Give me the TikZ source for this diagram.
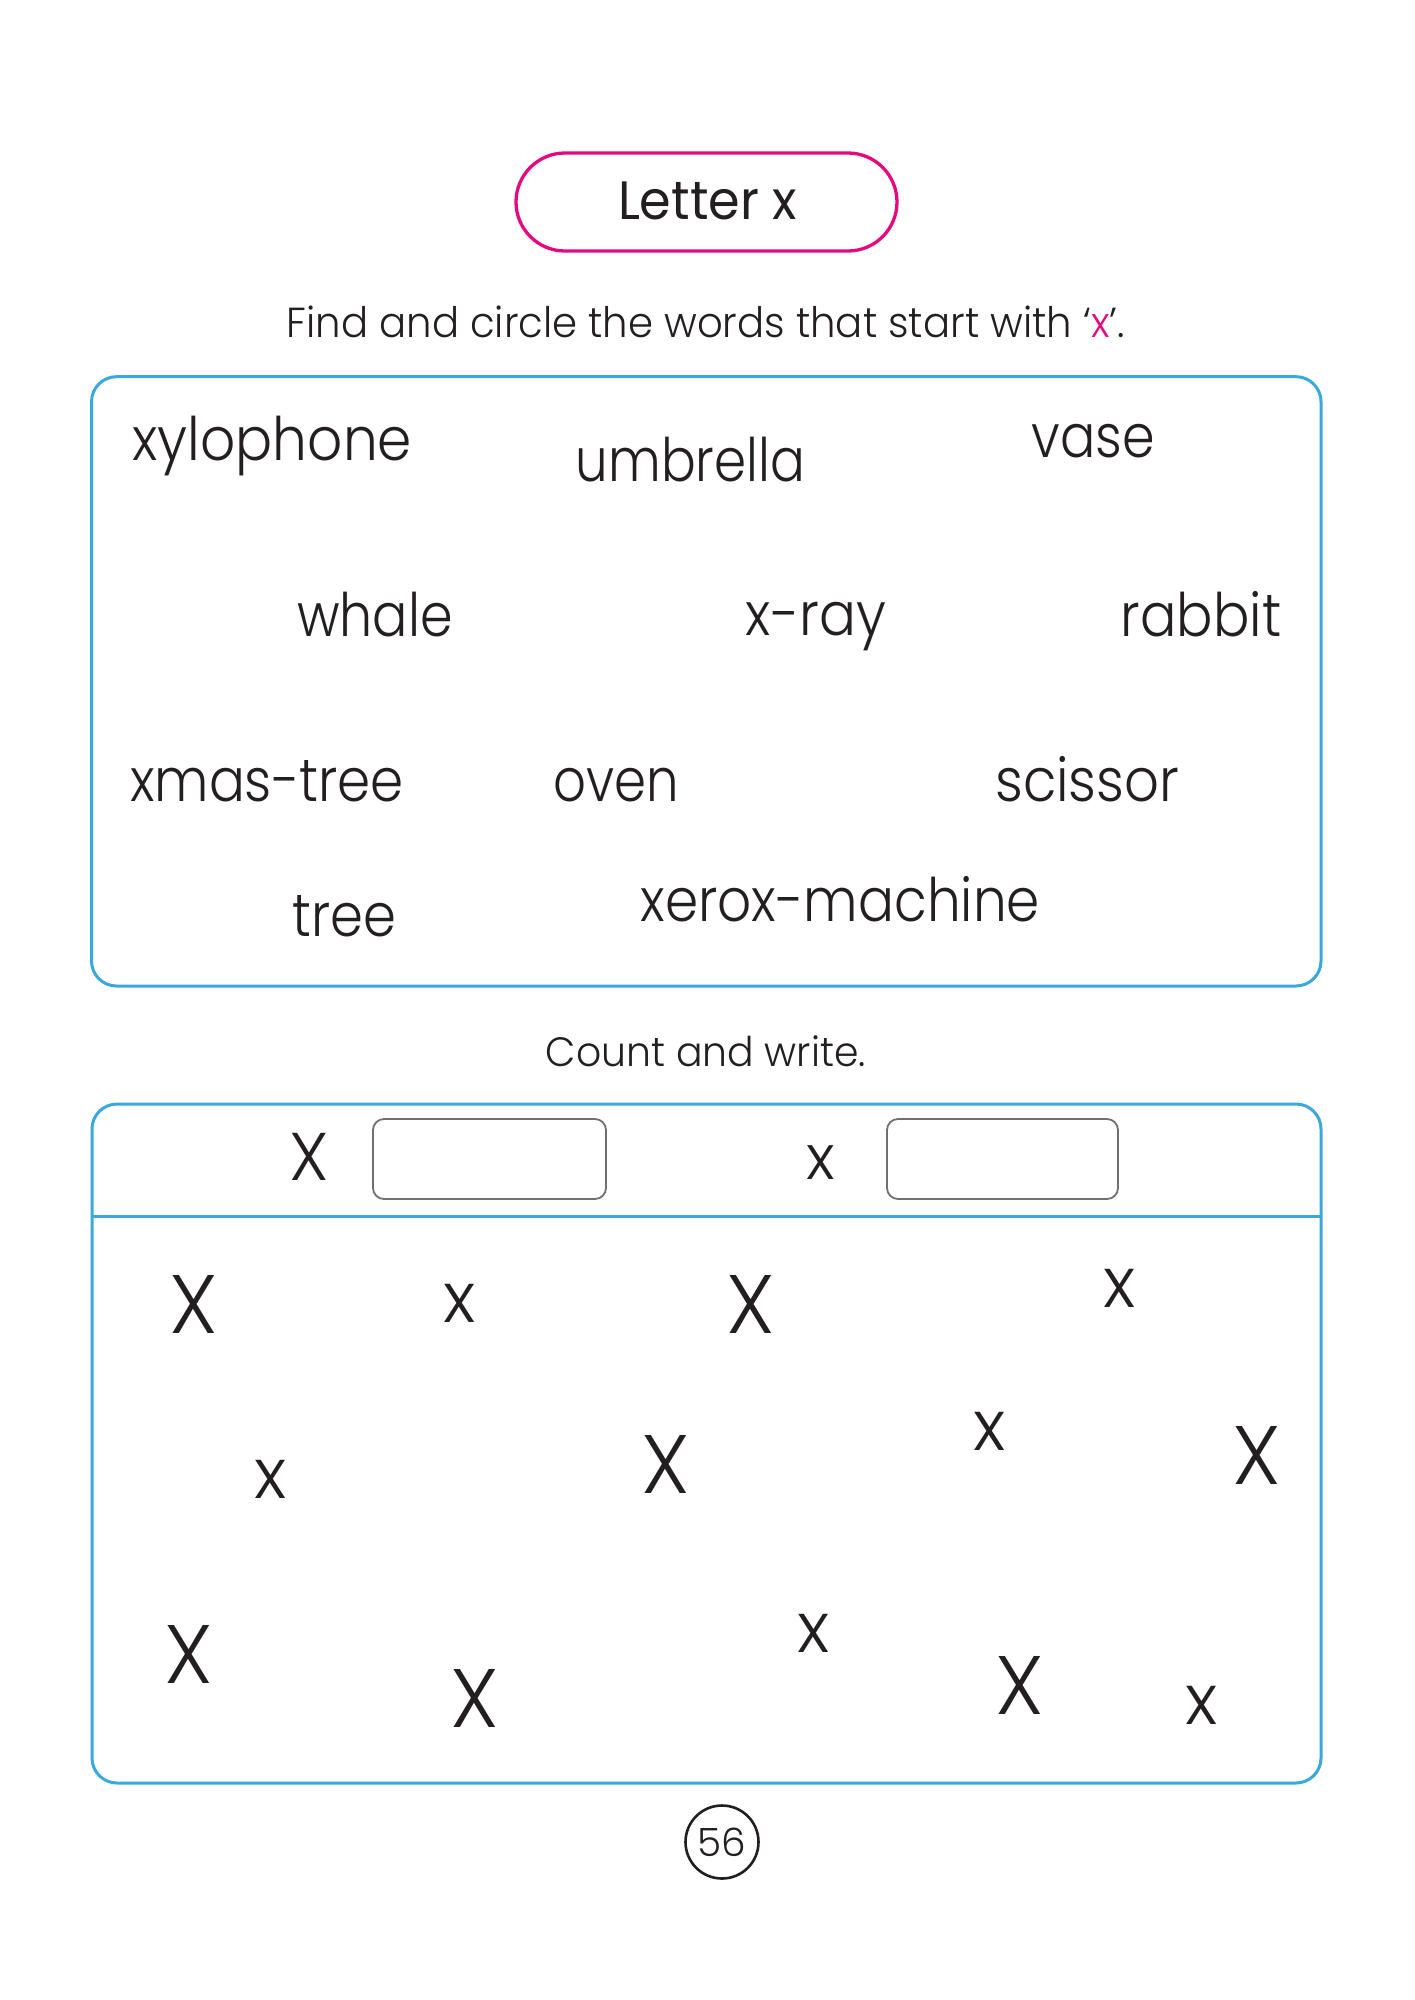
\documentclass[tikz,border=0pt]{standalone}
\usepackage{fontspec}
\usepackage{graphicx}
\setmainfont{Poppins}
\newfontfamily\popl{Poppins Light}
\newfontfamily\popr{Poppins}
\definecolor{ink}{HTML}{231F20}
\definecolor{mag}{HTML}{E5097F}
\definecolor{sky}{HTML}{39A9DC}
\definecolor{boxgray}{HTML}{707070}
\newcommand\wordbox[2]{\resizebox{#1}{\height}{\popl\fontsize{60pt}{60pt}\selectfont #2}}
\newcommand\glyphbig[1]{{\popl\fontsize{83pt}{83pt}\selectfont #1}}
\newcommand\glyphsmall[1]{{\popl\fontsize{70pt}{70pt}\selectfont #1}}
\begin{document}
\begin{tikzpicture}[x=1pt,y=-1pt,
  txt/.style={inner sep=0pt, outer sep=0pt, text=ink},
  word/.style={txt, anchor=base west},
  bluebox/.style={draw=sky, line width=3pt, rounded corners=25pt},
  graybox/.style={draw=boxgray, line width=1.8pt, rounded corners=11pt},
  letterglyph/.style={txt, anchor=center}]
\useasboundingbox[fill=white] (0,0) rectangle (1414,2000);

% title pill
\draw[draw=mag, line width=3.3pt, rounded corners=49pt] (516,153) rectangle (897,251);
\node[txt, anchor=base] (title) at (707.5,219.3) {\resizebox{179pt}{\height}{\popr\fontsize{54pt}{54pt}\selectfont Letter x}};

% instruction
\node[txt, anchor=base] (instr) at (705.8,337.7) {\resizebox{838pt}{\height}{\popl\fontsize{42pt}{42pt}\selectfont Find and circle the words that start with ‘\textcolor{mag}{x}’.}};

% word box
\draw[bluebox] (91.5,376.7) rectangle (1321,986);
\node[word] (w1) at (132.7,460) {\wordbox{279.4pt}{xylophone}};
\node[word] (w2) at (575.7,481.7) {\wordbox{229.3pt}{umbrella}};
\node[word] (w3) at (1031.8,457.7) {\wordbox{123.2pt}{vase}};
\node[word] (w4) at (297,636.7) {\wordbox{155.6pt}{whale}};
\node[word] (w5) at (745.9,635.7) {\wordbox{140.1pt}{x-ray}};
\node[word] (w6) at (1120.9,636.7) {\wordbox{160.4pt}{rabbit}};
\node[word] (w7) at (130.2,801.7) {\wordbox{273.8pt}{xmas-tree}};
\node[word] (w8) at (553.9,801.7) {\wordbox{125.5pt}{oven}};
\node[word] (w9) at (995.3,801.7) {\wordbox{183.9pt}{scissor}};
\node[word] (w10) at (292.2,936) {\wordbox{103.7pt}{tree}};
\node[word] (w11) at (640.6,921.7) {\wordbox{399.3pt}{xerox-machine}};

% count and write
\node[txt, anchor=base] (count) at (705.8,1066.7) {\resizebox{320pt}{\height}{\popl\fontsize{41pt}{41pt}\selectfont Count and write.}};

% counting box
\draw[bluebox] (92,1104) rectangle (1321,1783);
\draw[draw=sky, line width=3pt] (92,1216) -- (1321,1216);
\node[letterglyph] (hX) at (309,1156.5) {{\popl\fontsize{67.5pt}{67.5pt}\selectfont X}};
\draw[graybox] (373,1119) rectangle (606,1199);
\node[letterglyph] (hx) at (821,1163) {{\popl\fontsize{62pt}{62pt}\selectfont x}};
\draw[graybox] (887,1119) rectangle (1118,1199);

% scattered letters
\node[letterglyph] (a1) at (194,1304) {\glyphbig{X}};
\node[letterglyph] (a2) at (460,1303) {\glyphsmall{x}};
\node[letterglyph] (a3) at (751,1304) {\glyphbig{X}};
\node[letterglyph] (a4) at (1120,1288) {\glyphsmall{x}};
\node[letterglyph] (b1) at (271,1479) {\glyphsmall{x}};
\node[letterglyph] (b2) at (666,1464) {\glyphbig{X}};
\node[letterglyph] (b3) at (990,1431) {\glyphsmall{x}};
\node[letterglyph] (b4) at (1257,1455.5) {\glyphbig{X}};
\node[letterglyph] (c1) at (189,1654) {\glyphbig{X}};
\node[letterglyph] (c2) at (475,1698) {\glyphbig{X}};
\node[letterglyph] (c3) at (814,1633) {\glyphsmall{x}};
\node[letterglyph] (c4) at (1020,1685) {\glyphbig{X}};
\node[letterglyph] (c5) at (1202,1705) {\glyphsmall{x}};

% page number
\node[draw=ink, line width=2.6pt, circle, minimum size=73pt, inner sep=0pt] (page) at (722,1842) {};
\node[txt, anchor=center] (pnum) at (page.center) {{\popl\fontsize{39pt}{39pt}\selectfont 56}};
\end{tikzpicture}
\end{document}
